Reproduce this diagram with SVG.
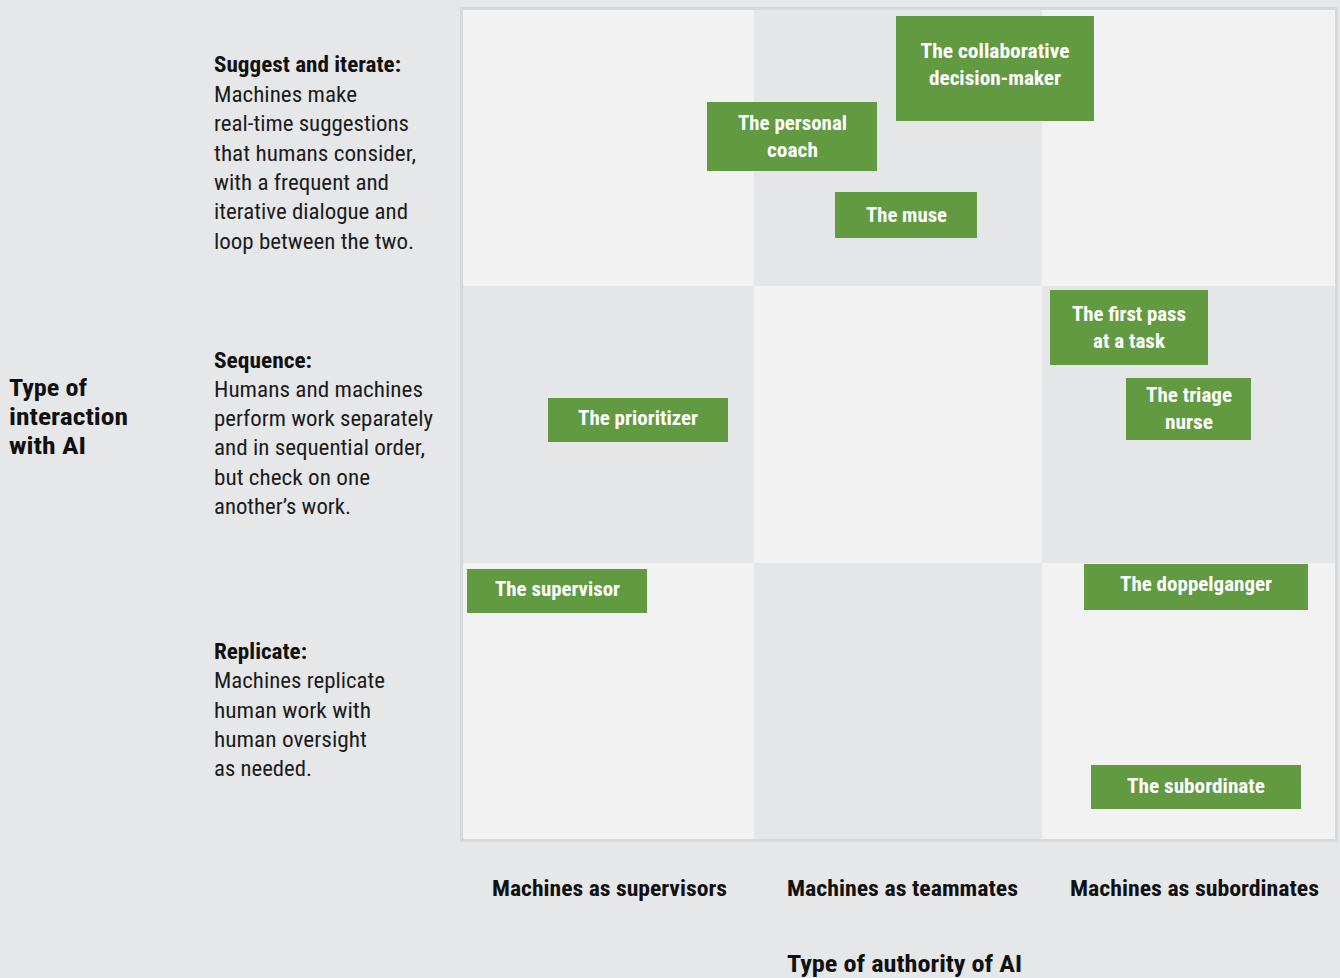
<svg xmlns="http://www.w3.org/2000/svg" width="1340" height="978" viewBox="0 0 1340 978">
<style>
.cf{font-family:"Roboto Condensed","Liberation Sans Narrow","Roboto","Liberation Sans",sans-serif}
.body{font-size:22px;fill:#1c1c1c}
.bold{font-weight:bold;fill:#111}
.lbl{font-size:20px;font-weight:bold;fill:#ffffff;text-anchor:middle}
.box{fill:#629a41}
.lt{fill:#f2f2f2}
.dk{fill:#e5e6e8}
</style>
<rect width="1340" height="978" fill="#e6e7e9"/>
<g id="grid">
<rect x="461.5" y="8.5" width="875" height="832" fill="none" stroke="#d8d8d8" stroke-width="3"/>
<rect class="lt" x="463" y="10" width="291" height="276"/>
<rect class="dk" x="754" y="10" width="288" height="276"/>
<rect class="lt" x="1042" y="10" width="293" height="276"/>
<rect class="dk" x="463" y="286" width="291" height="277"/>
<rect class="lt" x="754" y="286" width="288" height="277"/>
<rect class="dk" x="1042" y="286" width="293" height="277"/>
<rect class="lt" x="463" y="563" width="291" height="276"/>
<rect class="dk" x="754" y="563" width="288" height="276"/>
<rect class="lt" x="1042" y="563" width="293" height="276"/>
</g>
<g id="y-axis" class="cf">
<text class="bold" font-size="24"><tspan x="9" y="396" textLength="78" lengthAdjust="spacingAndGlyphs">Type of</tspan><tspan x="9" y="425" textLength="119" lengthAdjust="spacingAndGlyphs">interaction</tspan><tspan x="9" y="454" textLength="77" lengthAdjust="spacingAndGlyphs">with AI</tspan></text>
</g>
<g id="row-suggest" class="cf body">
<text><tspan class="bold" x="214" y="72" textLength="187" lengthAdjust="spacingAndGlyphs">Suggest and iterate:</tspan><tspan x="214" y="101.5" textLength="143" lengthAdjust="spacingAndGlyphs">Machines make</tspan><tspan x="214" y="131" textLength="195" lengthAdjust="spacingAndGlyphs">real-time suggestions</tspan><tspan x="214" y="160.5" textLength="202" lengthAdjust="spacingAndGlyphs">that humans consider,</tspan><tspan x="214" y="190" textLength="175" lengthAdjust="spacingAndGlyphs">with a frequent and</tspan><tspan x="214" y="219" textLength="194" lengthAdjust="spacingAndGlyphs">iterative dialogue and</tspan><tspan x="214" y="248.5" textLength="200" lengthAdjust="spacingAndGlyphs">loop between the two.</tspan></text>
</g>
<g id="row-sequence" class="cf body">
<text><tspan class="bold" x="214" y="367.5" textLength="98" lengthAdjust="spacingAndGlyphs">Sequence:</tspan><tspan x="214" y="396.5" textLength="209" lengthAdjust="spacingAndGlyphs">Humans and machines</tspan><tspan x="214" y="425.5" textLength="219" lengthAdjust="spacingAndGlyphs">perform work separately</tspan><tspan x="214" y="454.5" textLength="211" lengthAdjust="spacingAndGlyphs">and in sequential order,</tspan><tspan x="214" y="484.5" textLength="156" lengthAdjust="spacingAndGlyphs">but check on one</tspan><tspan x="214" y="513.5" textLength="137" lengthAdjust="spacingAndGlyphs">another’s work.</tspan></text>
</g>
<g id="row-replicate" class="cf body">
<text><tspan class="bold" x="214" y="658.5" textLength="93" lengthAdjust="spacingAndGlyphs">Replicate:</tspan><tspan x="214" y="687.5" textLength="171" lengthAdjust="spacingAndGlyphs">Machines replicate</tspan><tspan x="214" y="717.5" textLength="157" lengthAdjust="spacingAndGlyphs">human work with</tspan><tspan x="214" y="746.5" textLength="153" lengthAdjust="spacingAndGlyphs">human oversight</tspan><tspan x="214" y="775.5" textLength="98" lengthAdjust="spacingAndGlyphs">as needed.</tspan></text>
</g>
<g id="x-axis" class="cf bold" font-size="22">
<text x="492" y="896" textLength="235" lengthAdjust="spacingAndGlyphs">Machines as supervisors</text>
<text x="787" y="896" textLength="231" lengthAdjust="spacingAndGlyphs">Machines as teammates</text>
<text x="1070" y="896" textLength="249" lengthAdjust="spacingAndGlyphs">Machines as subordinates</text>
<text x="787" y="972" font-size="24" textLength="235" lengthAdjust="spacingAndGlyphs">Type of authority of AI</text>
</g>
<g id="connectors"></g>
<g id="collaborative-decision-maker" class="cf">
<rect class="box" x="896" y="16" width="198" height="105"/>
<text class="lbl"><tspan x="995" y="57.5" textLength="149" lengthAdjust="spacingAndGlyphs">The collaborative</tspan><tspan x="995" y="84.5" textLength="132" lengthAdjust="spacingAndGlyphs">decision-maker</tspan></text>
</g>
<g id="personal-coach" class="cf">
<rect class="box" x="707" y="102" width="170" height="69"/>
<text class="lbl"><tspan x="792.5" y="129.5" textLength="109" lengthAdjust="spacingAndGlyphs">The personal</tspan><tspan x="792.5" y="156.5" textLength="51" lengthAdjust="spacingAndGlyphs">coach</tspan></text>
</g>
<g id="muse" class="cf">
<rect class="box" x="835" y="192" width="142" height="46"/>
<text class="lbl" x="906.5" y="221.5" textLength="81" lengthAdjust="spacingAndGlyphs">The muse</text>
</g>
<g id="first-pass" class="cf">
<rect class="box" x="1050" y="290" width="158" height="75"/>
<text class="lbl"><tspan x="1129" y="320.5" textLength="114" lengthAdjust="spacingAndGlyphs">The first pass</tspan><tspan x="1129" y="347.5" textLength="72" lengthAdjust="spacingAndGlyphs">at a task</tspan></text>
</g>
<g id="triage-nurse" class="cf">
<rect class="box" x="1126" y="378" width="125" height="62"/>
<text class="lbl"><tspan x="1189" y="401.5" textLength="86" lengthAdjust="spacingAndGlyphs">The triage</tspan><tspan x="1189" y="428.5" textLength="48" lengthAdjust="spacingAndGlyphs">nurse</tspan></text>
</g>
<g id="prioritizer" class="cf">
<rect class="box" x="548" y="398" width="180" height="44"/>
<text class="lbl" x="638" y="425" textLength="120" lengthAdjust="spacingAndGlyphs">The prioritizer</text>
</g>
<g id="supervisor" class="cf">
<rect class="box" x="467" y="569" width="180" height="44"/>
<text class="lbl" x="557.5" y="596" textLength="125" lengthAdjust="spacingAndGlyphs">The supervisor</text>
</g>
<g id="doppelganger" class="cf">
<rect class="box" x="1084" y="564" width="224" height="46"/>
<text class="lbl" x="1196" y="590.5" textLength="152" lengthAdjust="spacingAndGlyphs">The doppelganger</text>
</g>
<g id="subordinate" class="cf">
<rect class="box" x="1091" y="765" width="210" height="44"/>
<text class="lbl" x="1196" y="793" textLength="138" lengthAdjust="spacingAndGlyphs">The subordinate</text>
</g>
</svg>
